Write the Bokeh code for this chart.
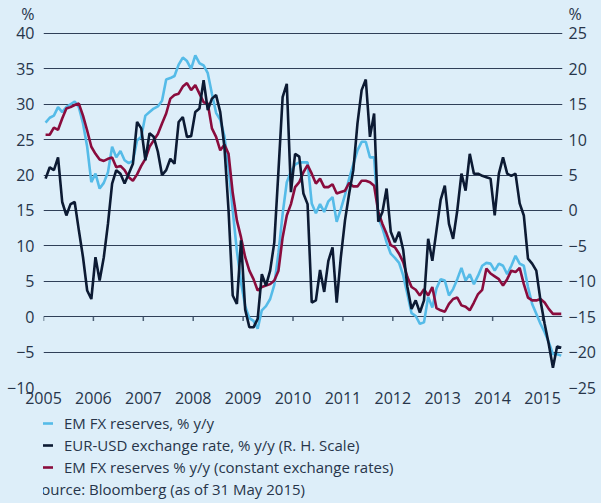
import pandas as pd
from bokeh.plotting import figure
from bokeh.layouts import column
from bokeh.models import (Range1d, LinearAxis, FixedTicker, Legend, LegendItem)
from bokeh.embed import file_html
from bokeh.resources import INLINE

# ---------------- data (monthly, Jan 2005 - May 2015) ----------------
months = pd.date_range("2005-01-01", periods=125, freq="MS")

em_fx_reserves = [
    27.4, 28.1, 28.4, 29.6, 28.9, 29.6, 30.0, 30.4, 29.6, 27.3,
    24.0, 19.0, 20.2, 18.1, 18.9, 20.4, 24.0, 22.5, 23.4, 22.1,
    21.7, 22.0, 24.9, 25.4, 28.4, 28.9, 29.4, 29.7, 30.5, 33.5,
    33.7, 34.0, 35.6, 36.6, 36.1, 35.0, 36.9, 35.8, 35.5, 34.4,
    31.5, 28.8, 27.8, 25.5, 21.0, 15.0, 9.3, 4.8, 1.5, -0.2,
    -0.6, -1.7, 0.9, 1.5, 2.5, 4.5, 9.0, 14.5, 19.0, 20.5,
    21.5, 21.8, 21.8, 21.8, 16.0, 14.6, 15.9, 14.8, 16.3, 16.9,
    13.4, 15.2, 17.2, 19.5, 21.5, 23.5, 24.7, 24.7, 22.5, 22.5,
    14.0, 12.5, 10.5, 8.9, 8.3, 7.6, 5.8, 3.2, 0.5, 0.1,
    -1.0, -0.8, 2.8, 1.3, 4.0, 5.3, 5.1, 3.0, 3.9, 5.3,
    6.9, 5.1, 6.0, 4.6, 5.8, 7.2, 7.6, 7.5, 6.5, 7.5,
    7.2, 6.0, 7.2, 8.6, 7.5, 7.2, 4.2, 1.8, 0.4, -1.0,
    -2.2, -3.6, -5.3, -5.3, -5.5,
]

eur_usd = [  # right-hand scale
    4.5, 6.1, 5.7, 7.5, 1.2, -0.7, 0.9, 1.2, -2.8, -6.6,
    -11.3, -12.5, -6.6, -9.9, -6.6, -1.9, 3.8, 5.7, 5.2, 3.8,
    5.2, 6.6, 12.5, 11.6, 7.1, 10.9, 10.4, 8.3, 5.0, 5.7,
    7.3, 6.6, 12.5, 13.2, 10.4, 10.5, 13.9, 14.4, 18.4, 14.2,
    15.8, 16.3, 13.9, 9.0, 0.0, -12.0, -13.2, -4.2, -14.0, -16.5,
    -16.5, -15.3, -9.0, -10.6, -8.5, -4.5, 5.6, 16.0, 17.9, 2.6,
    8.0, 7.6, 2.4, 0.9, -13.0, -12.7, -8.4, -11.5, -7.1, -5.2,
    -13.0, -6.6, -1.4, 2.4, 5.7, 12.3, 17.0, 18.5, 10.4, 13.7,
    -1.6, -0.2, 3.1, -3.0, -4.5, -3.0, -5.6, -10.8, -13.9, -12.7,
    -14.4, -12.7, -4.0, -7.1, -2.8, 1.5, 3.5, -1.9, -4.0, 0.0,
    5.2, 2.8, 8.0, 5.2, 5.2, 4.9, 4.7, 4.5, -0.7, 5.2,
    7.5, 5.2, 4.9, 5.2, 1.0, -0.7, -6.8, -7.5, -8.5, -12.7,
    -16.0, -18.9, -22.2, -19.2, -19.4,
]

em_fx_const = [
    25.7, 25.7, 26.7, 26.4, 28.0, 29.4, 29.6, 29.9, 30.1, 28.4,
    26.3, 24.0, 23.0, 22.2, 22.0, 22.3, 22.5, 21.1, 21.3, 20.7,
    19.7, 19.2, 20.1, 21.3, 22.3, 24.0, 24.9, 25.8, 27.3, 28.7,
    30.8, 31.3, 31.5, 32.5, 33.0, 32.0, 32.7, 31.5, 30.3, 30.1,
    26.6, 25.4, 23.5, 24.3, 23.0, 17.5, 13.6, 11.2, 8.4, 6.5,
    5.3, 3.7, 4.2, 4.4, 4.6, 5.1, 6.5, 11.2, 14.3, 15.9,
    18.3, 19.0, 20.4, 21.4, 20.2, 18.8, 19.5, 18.3, 18.3, 18.7,
    17.4, 17.6, 17.8, 18.9, 18.4, 18.4, 19.2, 19.2, 19.0, 18.5,
    14.8, 13.1, 11.7, 10.1, 9.8, 8.9, 7.7, 5.6, 4.2, 3.8,
    3.0, 3.9, 3.0, 4.2, 1.2, 0.9, 0.7, 1.8, 2.5, 2.7,
    1.6, 1.4, 0.9, 2.0, 3.2, 3.8, 6.8, 6.1, 5.7, 5.3,
    4.4, 5.3, 6.5, 6.3, 6.9, 4.6, 2.7, 2.3, 2.3, 2.5,
    2.0, 1.1, 0.4, 0.4, 0.4,
]

years = list(range(2005, 2016))
left_ticks = list(range(-10, 41, 5))
right_ticks = list(range(-25, 26, 5))
unit_label = "%"
labels = [
    "EM FX reserves, % y/y",
    "EUR-USD exchange rate, % y/y (R. H. Scale)",
    "EM FX reserves % y/y (constant exchange rates)",
]
source_text = "Source: Bloomberg (as of 31 May 2015)"

t = [d.year + (d.month - 0.5) / 12 for d in months]

# ---------------- styling ----------------
BG = "#ddeef9"
TXT = "#27354a"
GRID = "#2f3f58"
FONT = "Open Sans"
C_LB = "#55bbe8"
C_NAVY = "#0c1a33"
C_RED = "#8a0c3d"
LW = 2.6

TOP_L = 43.53
UNIT_L = 42.7
OFFSET = 15  # right scale = left scale - 15

# ---------------- main chart ----------------
p = figure(width=601, height=413, output_backend="svg", toolbar_location=None,
           x_range=Range1d(2005, 2015.4), y_range=Range1d(-10, TOP_L),
           min_border_left=43, min_border_right=39, min_border_top=8,
           min_border_bottom=26)
p.background_fill_color = BG
p.border_fill_color = BG
p.outline_line_color = None
p.extra_y_ranges = {"r": Range1d(-10 - OFFSET, TOP_L - OFFSET)}

p.xgrid.visible = False
p.ygrid.ticker = FixedTicker(ticks=left_ticks)
p.ygrid.grid_line_color = GRID
p.ygrid.grid_line_width = 1.2

def style_axis(ax, standoff):
    ax.axis_line_color = None
    ax.major_tick_line_color = None
    ax.minor_tick_line_color = None
    ax.major_tick_out = 0
    ax.major_tick_in = 0
    ax.minor_tick_out = 0
    ax.major_label_text_font = FONT
    ax.major_label_text_font_size = "16px"
    ax.major_label_text_color = TXT
    ax.major_label_standoff = standoff

p.yaxis.ticker = FixedTicker(ticks=left_ticks + [UNIT_L])
p.yaxis.major_label_overrides = {UNIT_L: unit_label}
style_axis(p.yaxis[0], 9)
p.xaxis.ticker = FixedTicker(ticks=years)
style_axis(p.xaxis[0], 4)

raxis = LinearAxis(y_range_name="r",
                   ticker=FixedTicker(ticks=right_ticks + [UNIT_L - OFFSET]),
                   major_label_overrides={UNIT_L - OFFSET: unit_label})
style_axis(raxis, 6)
p.add_layout(raxis, "right")

# small year ticks hanging from the zero line
p.segment(x0=years, y0=[0] * len(years), x1=years, y1=[-0.6] * len(years),
          line_color="#4d6075", line_width=1.5)

p.line(t, em_fx_reserves, line_color=C_LB, line_width=LW)
p.line(t, em_fx_const, line_color=C_RED, line_width=LW)
p.line(t, eur_usd, y_range_name="r", line_color=C_NAVY, line_width=LW)

# ---------------- legend + source strip ----------------
# (its frame is aligned with the chart frame, which starts 43 px from the left)
q = figure(width=601, height=90, output_backend="svg", toolbar_location=None,
           x_range=Range1d(0, 1), y_range=Range1d(0, 1), min_border=0,
           x_axis_location=None, y_axis_location=None)
q.background_fill_color = BG
q.border_fill_color = BG
q.outline_line_color = None
q.grid.visible = False

nan = float("nan")
k_lb = q.line([nan], [nan], line_color=C_LB, line_width=LW)
k_navy = q.line([nan], [nan], line_color=C_NAVY, line_width=LW)
k_red = q.line([nan], [nan], line_color=C_RED, line_width=LW)
k_src = q.line([nan], [nan], line_alpha=0)

common = dict(label_text_font=FONT, label_text_font_size="15px",
              label_text_color=TXT, glyph_height=20, label_height=20,
              spacing=2, padding=0, margin=0, background_fill_alpha=0,
              border_line_alpha=0, orientation="vertical")

legend = Legend(items=[LegendItem(label=labels[0], renderers=[k_lb]),
                       LegendItem(label=labels[1], renderers=[k_navy]),
                       LegendItem(label=labels[2], renderers=[k_red])],
                location=(-10, 26), glyph_width=20, label_standoff=11,
                **common)
q.add_layout(legend)

source_note = Legend(items=[LegendItem(label=source_text, renderers=[k_src])],
                     location=(-10, 4), glyph_width=0, label_standoff=0,
                     **common)
q.add_layout(source_note)

page = column(p, q, spacing=0)

html = file_html(page, INLINE)
html = html.replace("</head>", "<style>html,body{background:%s;}</style></head>" % BG)
open("out.html", "w").write(html)
